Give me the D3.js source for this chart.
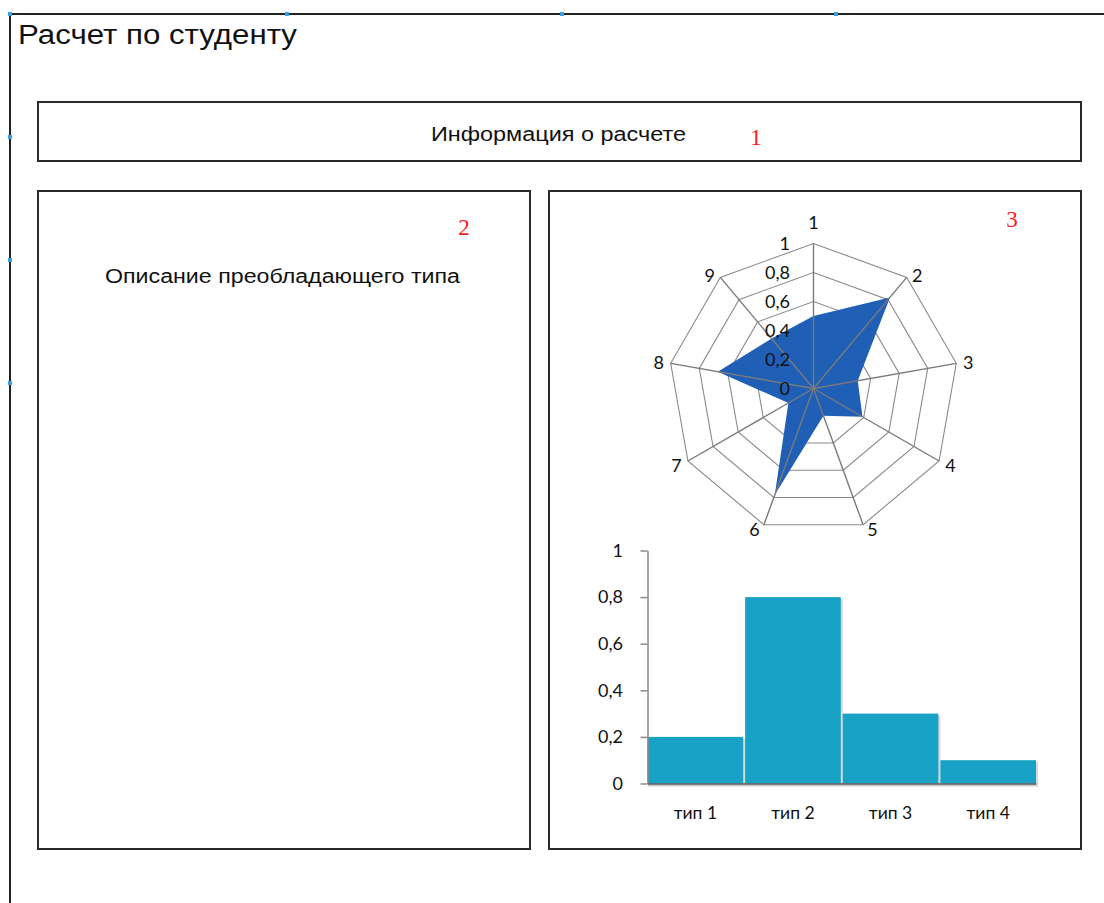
<!DOCTYPE html>
<html><head><meta charset="utf-8">
<script src="https://cdn.jsdelivr.net/npm/d3@7"></script>
<style>
html,body{margin:0;padding:0;background:#fff;}
svg{display:block;}
</style></head>
<body>
<svg id="c" width="1104" height="903"></svg>
<script>
// ---- data ----
const radarAxes = ["1","2","3","4","5","6","7","8","9"];
const radarValues = [0.5, 0.82, 0.31, 0.39, 0.2, 0.78, 0.2, 0.67, 0.45];
const radarTicks = [0, 0.2, 0.4, 0.6, 0.8, 1];
const radarTickLabels = ["0","0,2","0,4","0,6","0,8","1"];
const barCategories = ["тип 1","тип 2","тип 3","тип 4"];
const barValues = [0.2, 0.8, 0.3, 0.1];
const barTicks = [0, 0.2, 0.4, 0.6, 0.8, 1];
const barTickLabels = ["0","0,2","0,4","0,6","0,8","1"];
const pageTitle = "Расчет по студенту";
const box1Text = "Информация о расчете";
const box2Text = "Описание преобладающего типа";
const boxNumbers = ["1","2","3"];

const svg = d3.select("#c");
const sans = "'Liberation Sans', Arial, sans-serif";
const cal = "Lato, 'Open Sans', sans-serif";

// ---- page frame ----
svg.append("line").attr("x1",10).attr("y1",14).attr("x2",1104).attr("y2",14)
  .attr("stroke","#222").attr("stroke-width",2);
svg.append("line").attr("x1",10).attr("y1",14).attr("x2",10).attr("y2",903)
  .attr("stroke","#222").attr("stroke-width",2);
const handles = [[10,14],[287,14],[562,14],[836,14],[10,137],[10,260],[10,383]];
svg.selectAll("rect.h").data(handles).enter().append("rect")
  .attr("x",d=>d[0]-2).attr("y",d=>d[1]-2).attr("width",4).attr("height",4)
  .attr("fill","#3aa0e8");

svg.append("text").attr("x",18).attr("y",44).attr("font-family",sans)
  .attr("font-size",27).attr("textLength",279).attr("lengthAdjust","spacingAndGlyphs")
  .attr("fill","#111").text(pageTitle);

// ---- boxes ----
const boxes = [[38,102,1043,59],[38,191,492,658],[549,191,532,658]];
svg.selectAll("rect.b").data(boxes).enter().append("rect")
  .attr("x",d=>d[0]).attr("y",d=>d[1]).attr("width",d=>d[2]).attr("height",d=>d[3])
  .attr("fill","none").attr("stroke","#2a2a2a").attr("stroke-width",2);

svg.append("text").attr("x",431).attr("y",141)
  .attr("font-family",sans).attr("font-size",20).attr("textLength",255).attr("lengthAdjust","spacingAndGlyphs")
  .attr("fill","#111").text(box1Text);
svg.append("text").attr("x",105).attr("y",283)
  .attr("font-family",sans).attr("font-size",20).attr("textLength",355).attr("lengthAdjust","spacingAndGlyphs")
  .attr("fill","#111").text(box2Text);

const numPos = [[756,145],[464,235],[1012,227]];
svg.selectAll("text.n").data(boxNumbers).enter().append("text")
  .attr("x",(d,i)=>numPos[i][0]).attr("y",(d,i)=>numPos[i][1]).attr("text-anchor","middle")
  .attr("font-family","'Liberation Serif','Times New Roman',serif").attr("font-size",23)
  .attr("fill","#ff1a1a").text(d=>d);

// ---- radar ----
const cx = 813.5, cy = 388.5, R = 145;
const rScale = d3.scaleLinear().domain([0,1]).range([0,R]);
const aScale = d3.scaleLinear().domain([0, radarAxes.length]).range([0, 2*Math.PI]);
const pt = (i, v) => { const a = aScale(i); return [cx + rScale(v)*Math.sin(a), cy - rScale(v)*Math.cos(a)]; };
const rg = svg.append("g");
// rings
radarTicks.filter(t=>t>0).forEach(t=>{
  rg.append("polygon").attr("points", radarAxes.map((d,i)=>pt(i,t).join(",")).join(" "))
    .attr("fill","none").attr("stroke","#8a8a8a").attr("stroke-width",1.1);
});
// fill
rg.append("polygon").attr("points", radarValues.map((v,i)=>pt(i,v).join(",")).join(" "))
  .attr("fill","#1f5fb6");
// spokes
radarAxes.forEach((d,i)=>{
  const p = pt(i,1);
  rg.append("line").attr("x1",cx).attr("y1",cy).attr("x2",p[0]).attr("y2",p[1])
    .attr("stroke","#7a7a7a").attr("stroke-width",1.4);
});
// tick labels
rg.selectAll("text.rt").data(radarTicks).enter().append("text")
  .attr("x",790).attr("y",d=>cy - rScale(d)).attr("dy","0.35em").attr("text-anchor","end")
  .attr("font-family",cal).attr("font-size",18).attr("fill","#111")
  .text((d,i)=>radarTickLabels[i]);
// axis labels
const labOff = i => {
  const a = aScale(i), s = Math.sin(a), c = Math.cos(a);
  if (c > 0.9) return [0, -21];
  const dx = Math.sign(s) * (8 + 4*Math.abs(s));
  const dy = c < 0 ? 4.5 : -2*c;
  return [dx, dy];
};
rg.selectAll("text.ra").data(radarAxes).enter().append("text")
  .attr("x",(d,i)=>pt(i,1)[0] + labOff(i)[0]).attr("y",(d,i)=>pt(i,1)[1] + labOff(i)[1])
  .attr("dy","0.35em").attr("text-anchor","middle")
  .attr("font-family",cal).attr("font-size",18).attr("fill","#111").text(d=>d);

// ---- bar chart ----
const x = d3.scaleBand().domain(barCategories).range([647.5,1036]).paddingInner(0.02).paddingOuter(0);
const y = d3.scaleLinear().domain([0,1]).range([783.5,550.5]);
const bg = svg.append("g");
// shadow
bg.selectAll("rect.s").data(barValues).enter().append("rect")
  .attr("x",(d,i)=>x(barCategories[i])+2).attr("y",d=>y(d)+2)
  .attr("width",x.bandwidth()).attr("height",d=>y(0)-y(d)-2)
  .attr("fill","#d8d8d8");
bg.selectAll("rect.bar").data(barValues).enter().append("rect")
  .attr("x",(d,i)=>x(barCategories[i])).attr("y",d=>y(d))
  .attr("width",x.bandwidth()).attr("height",d=>y(0)-y(d))
  .attr("fill","#17a2c6");
// y axis
const ya = bg.append("g").attr("transform","translate(647.5,0)")
  .call(d3.axisLeft(y).tickValues(barTicks).tickSize(7).tickSizeOuter(0).tickFormat((d,i)=>barTickLabels[i]));
ya.select(".domain").attr("stroke","#8a8a8a").attr("stroke-width",1.5);
ya.selectAll(".tick line").attr("stroke","#8a8a8a").attr("stroke-width",1.5);
ya.selectAll(".tick text").attr("x",-24.5).attr("font-family",cal).attr("font-size",18).attr("fill","#111");
// x axis
bg.append("line").attr("x1",647.5).attr("x2",1038).attr("y1",785.5).attr("y2",785.5)
  .attr("stroke","#cfcfcf").attr("stroke-width",2);
const xa = bg.append("g").attr("transform","translate(0,783.5)")
  .call(d3.axisBottom(x).tickSize(0).tickSizeOuter(0));
xa.select(".domain").attr("stroke","#555").attr("stroke-width",1.6);
xa.selectAll(".tick text").attr("y",29.5).attr("dy","0.35em").attr("font-family",cal).attr("font-size",17.5).attr("fill","#111");
</script>
</body></html>
